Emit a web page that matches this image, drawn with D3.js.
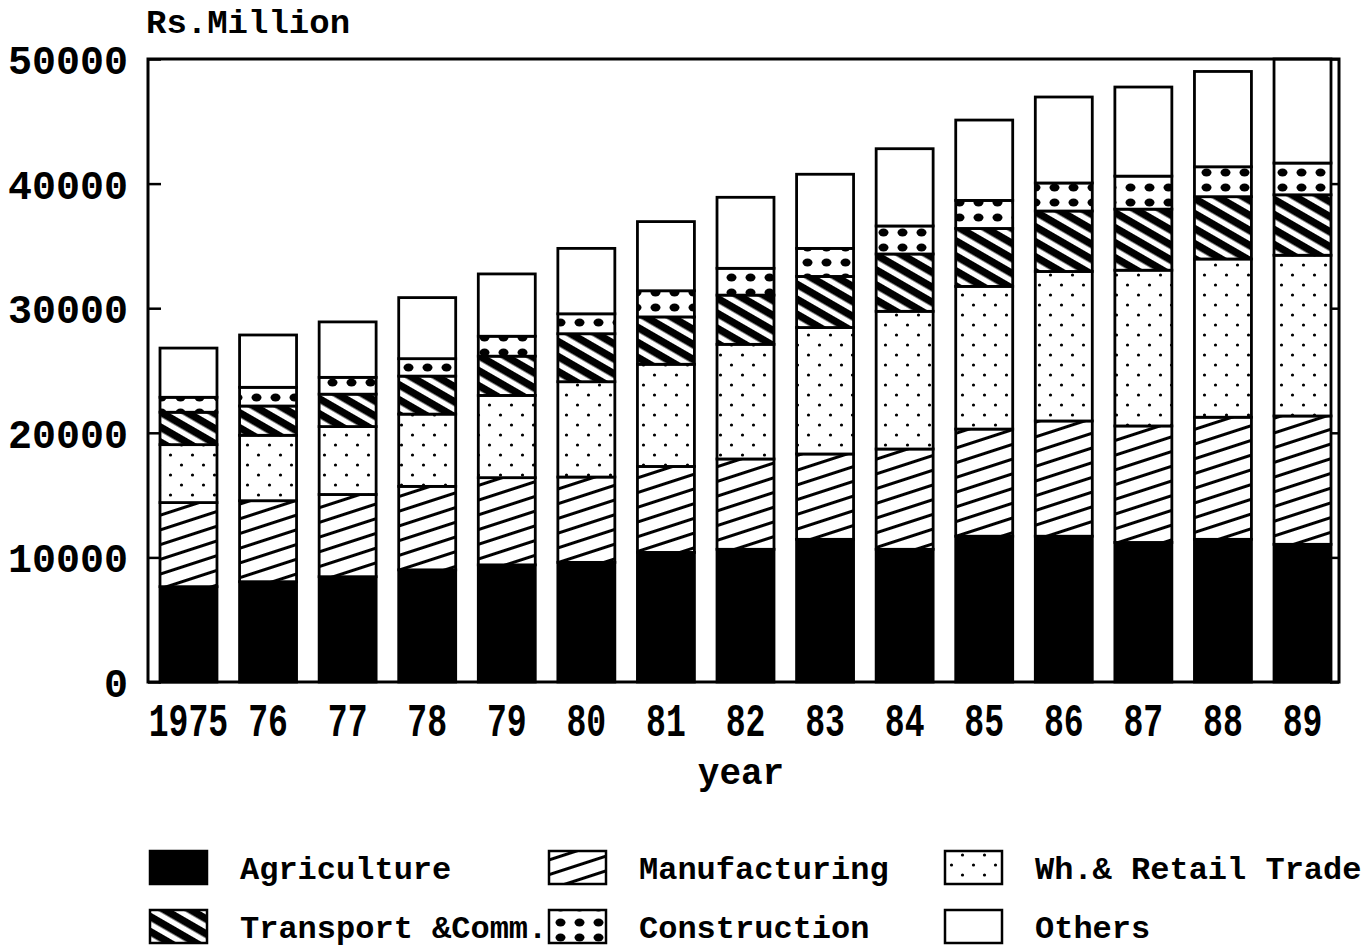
<!DOCTYPE html>
<html><head><meta charset="utf-8">
<script src="https://cdn.jsdelivr.net/npm/d3@7"></script>
<style>body{margin:0;background:#fff} svg{display:block}</style>
</head><body><svg id="c" width="1371" height="949"></svg>
<script>
// ---- data (Rs. Million) ----
const years = ["1975","76","77","78","79","80","81","82","83","84","85","86","87","88","89"];
const seriesNames = ["Agriculture","Manufacturing","Wh.& Retail Trade","Transport &Comm.","Construction","Others"];
const agriculture   = [7650, 8050, 8450, 9000, 9400, 9600, 10400, 10650, 11450, 10650, 11700, 11700, 11200, 11450, 11050];
const manufacturing = [6750, 6500, 6600, 6700, 7000, 6850, 6900, 7250, 6850, 8050, 8600, 9250, 9350, 9800, 10300];
const trade         = [4650, 5250, 5450, 5800, 6600, 7650, 8200, 9200, 10150, 11050, 11450, 12000, 12500, 12700, 12900];
const transport     = [2600, 2350, 2600, 3050, 3150, 3850, 3800, 3950, 4100, 4600, 4650, 4850, 4900, 5000, 4850];
const construction  = [1200, 1500, 1350, 1400, 1600, 1600, 2100, 2150, 2250, 2250, 2250, 2250, 2650, 2400, 2550];
const others        = [3950, 4200, 4450, 4900, 5000, 5250, 5550, 5700, 5950, 6200, 6450, 6900, 7150, 7650, 8350];
const yTicks = [0, 10000, 20000, 30000, 40000, 50000];
const yTitle = "Rs.Million";
const xTitle = "year";

const keys = ["agri","manu","trade","trans","cons","oth"];
const seriesArrays = [agriculture, manufacturing, trade, transport, construction, others];
const rows = years.map((y, i) => {
  const o = {year: y};
  keys.forEach((k, j) => o[k] = seriesArrays[j][i]);
  return o;
});

const FONT = "'Liberation Mono', 'DejaVu Sans Mono', monospace";
const svg = d3.select("#c");
const defs = svg.append("defs");

// ---- patterns ----
const pm = defs.append("pattern").attr("id","p-manu").attr("patternUnits","userSpaceOnUse")
  .attr("width",12).attr("height",14).attr("patternTransform","rotate(-18)");
pm.append("rect").attr("width",12).attr("height",14).attr("fill","#fff");
pm.append("rect").attr("y",6).attr("width",12).attr("height",3).attr("fill","#000");
const pt = defs.append("pattern").attr("id","p-trade").attr("patternUnits","userSpaceOnUse")
  .attr("width",22).attr("height",20);
pt.append("rect").attr("width",22).attr("height",20).attr("fill","#fff");
pt.append("circle").attr("cx",5.5).attr("cy",5).attr("r",1.6).attr("fill","#000");
pt.append("circle").attr("cx",16.5).attr("cy",15).attr("r",1.6).attr("fill","#000");
const ptr = defs.append("pattern").attr("id","p-trans").attr("patternUnits","userSpaceOnUse")
  .attr("width",12).attr("height",13).attr("patternTransform","rotate(30)");
ptr.append("rect").attr("width",12).attr("height",13).attr("fill","#fff");
ptr.append("rect").attr("y",0).attr("width",12).attr("height",7.5).attr("fill","#000");
const pc = defs.append("pattern").attr("id","p-cons").attr("patternUnits","userSpaceOnUse")
  .attr("width",19).attr("height",15);
pc.append("rect").attr("width",19).attr("height",15).attr("fill","#fff");
pc.append("ellipse").attr("cx",9.5).attr("cy",7.5).attr("rx",5).attr("ry",4).attr("fill","#000");

const fills = {agri:"#000", manu:"url(#p-manu)", trade:"url(#p-trade)", trans:"url(#p-trans)", cons:"url(#p-cons)", oth:"#fff"};

// ---- scales ----
const L = 148, R = 1339, T = 59, B = 682;
const x = d3.scaleBand().domain(years).range([160, 1331]).paddingInner(0.284).paddingOuter(0);
const y = d3.scaleLinear().domain([0, 50000]).range([B, T]);

// ---- bars ----
const stack = d3.stack().keys(keys)(rows);
const g = svg.append("g");
stack.forEach(layer => {
  g.append("g").selectAll("rect").data(layer).join("rect")
    .attr("x", d => x(d.data.year))
    .attr("width", x.bandwidth())
    .attr("y", d => y(d[1]))
    .attr("height", d => y(d[0]) - y(d[1]))
    .attr("fill", fills[layer.key])
    .attr("stroke", "#000").attr("stroke-width", 2.8);
});

// ---- frame ----
svg.append("rect").attr("x",L).attr("y",T).attr("width",R-L).attr("height",B-T)
  .attr("fill","none").attr("stroke","#000").attr("stroke-width",3);

const ya = svg.append("g").attr("transform",`translate(${L},0)`)
  .call(d3.axisLeft(y).tickValues(yTicks).tickFormat(d3.format("d")).tickSizeInner(-13).tickSizeOuter(0).tickPadding(20));
ya.select(".domain").remove();
ya.selectAll("line").attr("stroke","#000").attr("stroke-width",2.5);
ya.selectAll("text").attr("font-family",FONT).attr("font-weight","bold").attr("font-size",40).attr("fill","#000").attr("dy","0.36em");

const yr = svg.append("g").attr("transform",`translate(${R},0)`)
  .call(d3.axisRight(y).tickValues(yTicks).tickFormat("").tickSizeInner(-9).tickSizeOuter(0));
yr.select(".domain").remove();
yr.selectAll("line").attr("stroke","#000").attr("stroke-width",2.5);

const xa = svg.append("g").attr("transform",`translate(0,${B})`)
  .call(d3.axisBottom(x).tickSize(0));
xa.select(".domain").remove();
xa.selectAll("text").attr("y",54).attr("dy",0)
  .attr("font-family",FONT).attr("font-weight","bold").attr("font-size",46).attr("fill","#000")
  .attr("transform","scale(0.72,1)");

svg.append("text").attr("x",146).attr("y",33).text(yTitle)
  .attr("font-family",FONT).attr("font-weight","bold").attr("font-size",34);
svg.append("text").attr("x",741).attr("y",784).attr("text-anchor","middle").text(xTitle)
  .attr("font-family",FONT).attr("font-weight","bold").attr("font-size",36);

// ---- legend ----
const colX = [150, 549, 945], rowY = [851, 910];
const leg = svg.append("g");
keys.forEach((k, i) => {
  const cx = colX[i % 3], cy = rowY[Math.floor(i / 3)];
  leg.append("text").attr("x", cx + 90).attr("y", cy + 28).text(seriesNames[i])
    .attr("font-family",FONT).attr("font-weight","bold").attr("font-size",32);
  leg.append("rect").attr("x", cx).attr("y", cy).attr("width",57).attr("height",33)
    .attr("fill", fills[k]).attr("stroke","#000").attr("stroke-width",2.5);
});
</script></body></html>
